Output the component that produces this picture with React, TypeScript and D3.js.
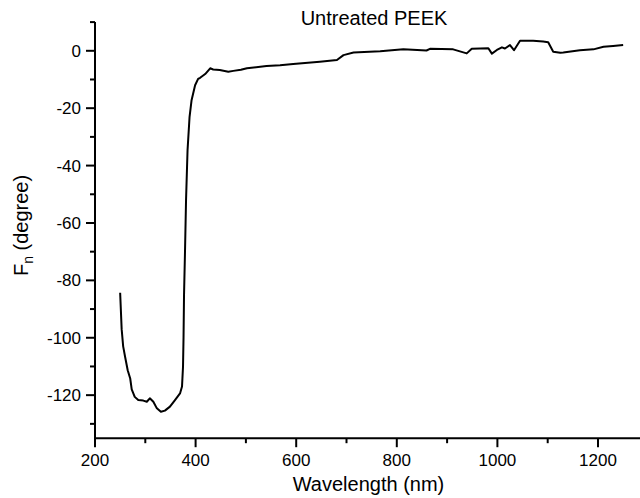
import React from "react";
import * as d3 from "d3";

const wavelength = [
  250, 253, 256, 260, 265, 270, 273, 279, 286, 296, 303, 309, 316, 323, 331, 339, 349, 359, 369, 373,
  375, 376, 377, 379, 381, 384, 388, 392, 399, 405, 409, 419, 429, 435, 448, 465, 475, 490, 502, 541,
  568, 594, 647, 681, 694, 714, 767, 813, 859, 866, 912, 939, 949, 982, 989, 999, 1009, 1015, 1025, 1033,
  1045, 1071, 1091, 1101, 1111, 1125, 1131, 1164, 1191, 1211, 1230, 1250,
];
const fn = [
  -84.3, -97, -103, -106.8, -111.3, -114.2, -118, -120.6, -121.7, -121.9, -122.3, -121.1, -122.3, -124.6, -125.8, -125.4, -124, -121.7, -119.4, -117,
  -110, -100, -85, -69.5, -52, -34.6, -23, -17.2, -12, -9.8, -9.4, -8.1, -6.1, -6.5, -6.7, -7.3, -7.0, -6.6, -6.1, -5.3,
  -5.0, -4.6, -3.8, -3.2, -1.5, -0.6, -0.2, 0.5, 0.1, 0.7, 0.5, -0.9, 0.7, 0.9, -1.0, 0.3, 1.2, 0.8, 2.0, 0.2,
  3.5, 3.5, 3.2, 3.0, -0.3, -0.7, -0.6, 0.2, 0.5, 1.4, 1.7, 2.0,
];
const xMajorTicks = [200, 400, 600, 800, 1000, 1200];
const xMinorTicks = [300, 500, 700, 900, 1100];
const yMajorTicks = [0, -20, -40, -60, -80, -100, -120];
const yMinorTicks = [10, -10, -30, -50, -70, -90, -110, -130];
const title = "Untreated PEEK";
const xTitle = "Wavelength (nm)";

const FONT = "'Liberation Sans', Arial, Helvetica, sans-serif";

export default function App() {
  const x = d3.scaleLinear().domain([200, 1300]).range([95, 95 + 1100 * 0.503]);
  const y = d3.scaleLinear().domain([-135, 10]).range([438.2, 22.1]);
  const pts: [number, number][] = wavelength.map((w, i) => [w, fn[i]]);
  const line = d3
    .line<[number, number]>()
    .x((d) => x(d[0]))
    .y((d) => y(d[1]));
  const x0 = x(200);
  const yBase = y(-135);

  return (
    <svg
      width={640}
      height={498}
      style={{ position: "absolute", left: 0, top: 0, background: "#fff" }}
      fontFamily={FONT}
    >
      <rect x={0} y={0} width={640} height={498} fill="#fff" />
      {/* axes */}
      <line x1={x0} x2={x0} y1={y(10)} y2={yBase} stroke="#000" strokeWidth={2} />
      <line x1={x0 - 1} x2={640} y1={yBase} y2={yBase} stroke="#000" strokeWidth={2} />
      {yMajorTicks.map((t) => (
        <g key={"ym" + t}>
          <line x1={x0 - 9} x2={x0} y1={y(t)} y2={y(t)} stroke="#000" strokeWidth={2} />
          <text x={81} y={y(t)} dy="0.36em" textAnchor="end" fontSize={17} fill="#000">
            {t}
          </text>
        </g>
      ))}
      {yMinorTicks.map((t) => (
        <line key={"yn" + t} x1={x0 - 5} x2={x0} y1={y(t)} y2={y(t)} stroke="#000" strokeWidth={2} />
      ))}
      {xMajorTicks.map((t) => (
        <g key={"xm" + t}>
          <line x1={x(t)} x2={x(t)} y1={yBase} y2={yBase + 9} stroke="#000" strokeWidth={2} />
          <text x={x(t)} y={466} textAnchor="middle" fontSize={17} fill="#000">
            {t}
          </text>
        </g>
      ))}
      {xMinorTicks.map((t) => (
        <line key={"xn" + t} x1={x(t)} x2={x(t)} y1={yBase} y2={yBase + 5} stroke="#000" strokeWidth={2} />
      ))}
      {/* data */}
      <path d={line(pts) || ""} fill="none" stroke="#000" strokeWidth={2} strokeLinejoin="round" />
      {/* titles */}
      <text x={374} y={25} textAnchor="middle" fontSize={20} fill="#000">
        {title}
      </text>
      <text x={368.5} y={491} textAnchor="middle" fontSize={20} fill="#000">
        {xTitle}
      </text>
      <text
        transform="translate(28,225.5) rotate(-90)"
        textAnchor="middle"
        fontSize={20}
        fill="#000"
      >
        F
        <tspan fontSize={14} dy={5}>
          n
        </tspan>
        <tspan dy={-5}> (degree)</tspan>
      </text>
    </svg>
  );
}
